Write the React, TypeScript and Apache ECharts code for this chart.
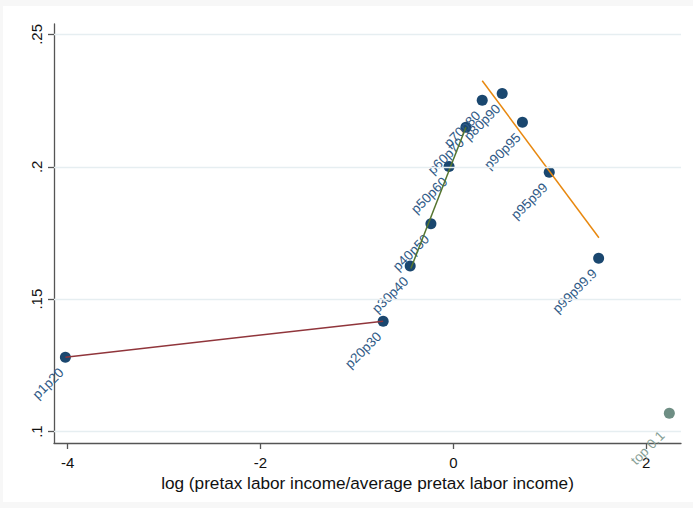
import { useEffect, useRef } from "react";
import * as echarts from "echarts";

// Percentile groups and their position on the chart
const groups = [
  "p1p20",
  "p20p30",
  "p30p40",
  "p40p50",
  "p50p60",
  "p60p70",
  "p70p80",
  "p80p90",
  "p90p95",
  "p95p99",
  "p99p99.9",
];
const logRatio = [-4.023, -0.728, -0.448, -0.233, -0.045, 0.13, 0.299, 0.506, 0.716, 0.994, 1.506];
const groupValue = [0.1281, 0.1417, 0.1625, 0.1785, 0.2001, 0.2149, 0.2251, 0.2277, 0.2168, 0.1979, 0.1655];

// The top 0.1% group, drawn in its own colour
const topGroup = "top 0.1";
const topLogRatio = 2.239;
const topValue = 0.1069;

// Linear fits over the lower, middle and upper groups (segment end points)
const lowerFit = [
  [-4.023, 0.1281],
  [-0.728, 0.1417],
];
const middleFit = [
  [-0.441, 0.1616],
  [0.13, 0.2149],
];
const upperFit = [
  [0.299, 0.2325],
  [1.509, 0.1732],
];

// Axis ticks
const xTicks = [-4, -2, 0, 2];
const yTicks = [0.1, 0.15, 0.2, 0.25];

const FONT = "'Liberation Sans', Arial, sans-serif";
const NAVY = "#1a476f";
const MAROON = "#90353b";
const FOREST = "#55752f";
const ORANGE = "#e8880f";
const TEAL = "#6e8e84";
const AXIS = "#555555";
const GRID = "#e6eef1";

export default function App() {
  const ref = useRef<HTMLDivElement>(null);

  useEffect(() => {
    if (!ref.current) return;
    const chart = echarts.init(ref.current, undefined, { renderer: "svg" });

    const fitSeries = (data: number[][], color: string) => ({
      type: "line",
      data,
      symbol: "none",
      silent: true,
      z: 4,
      lineStyle: { color, width: 1.5 },
    });

    chart.setOption({
      animation: false,
      backgroundColor: "#f7f7f7",
      graphic: [
        {
          type: "rect",
          z: -100,
          silent: true,
          shape: { x: 3, y: 6, width: 690, height: 496 },
          style: { fill: "#ffffff" },
        },
      ],
      grid: { left: 54, right: 12, top: 24, bottom: 65, containLabel: false },
      xAxis: {
        type: "value",
        min: -4.141,
        max: 2.36,
        name: "log (pretax labor income/average pretax labor income)",
        nameLocation: "middle",
        nameGap: 28,
        nameTextStyle: { fontFamily: FONT, fontSize: 17.2, color: "#111" },
        axisLine: { show: true, onZero: false, lineStyle: { color: AXIS, width: 1.3 } },
        axisTick: { show: true, length: 6, customValues: xTicks, lineStyle: { color: AXIS, width: 1.3 } },
        axisLabel: {
          customValues: xTicks,
          margin: 12,
          fontFamily: FONT,
          fontSize: 15,
          color: "#111",
          formatter: (v: number) => String(v),
        },
        splitLine: { show: false },
      },
      yAxis: {
        type: "value",
        min: 0.09569,
        max: 0.25393,
        axisLine: { show: true, onZero: false, lineStyle: { color: AXIS, width: 1.3 } },
        axisTick: { show: true, length: 6, customValues: yTicks, lineStyle: { color: AXIS, width: 1.3 } },
        axisLabel: {
          customValues: yTicks,
          rotate: 90,
          margin: 10,
          fontFamily: FONT,
          fontSize: 15,
          color: "#111",
          formatter: (v: number) => String(v).replace(/^0/, ""),
        },
        splitLine: { show: false },
      },
      series: [
        {
          type: "line",
          data: [],
          silent: true,
          z: 1,
          markLine: {
            silent: true,
            symbol: "none",
            label: { show: false },
            lineStyle: { color: GRID, width: 1.3, type: "solid" },
            data: yTicks.map((v) => ({ yAxis: v })),
          },
        },
        {
          type: "scatter",
          z: 3,
          symbolSize: 11,
          itemStyle: { color: NAVY, opacity: 1 },
          data: groups.map((g, i) => [logRatio[i], groupValue[i], g]),
          label: {
            show: true,
            formatter: (p: any) => p.data[2],
            rotate: 45,
            align: "right",
            verticalAlign: "middle",
            position: [1.5, 18.5],
            fontFamily: FONT,
            fontSize: 13.5,
            color: "#2f5a86",
          },
        },
        {
          type: "scatter",
          z: 3,
          symbolSize: 11,
          itemStyle: { color: TEAL, opacity: 1 },
          data: [[topLogRatio, topValue, topGroup]],
          label: {
            show: true,
            formatter: (p: any) => p.data[2],
            rotate: 45,
            align: "right",
            verticalAlign: "middle",
            position: [-1.5, 25.5],
            fontFamily: FONT,
            fontSize: 13.5,
            color: "#86a096",
          },
        },
        fitSeries(lowerFit, MAROON),
        fitSeries(middleFit, FOREST),
        fitSeries(upperFit, ORANGE),
      ],
    });

    return () => chart.dispose();
  }, []);

  return (
    <div
      ref={ref}
      style={{ position: "fixed", left: 0, top: 0, width: 693, height: 508 }}
    />
  );
}
